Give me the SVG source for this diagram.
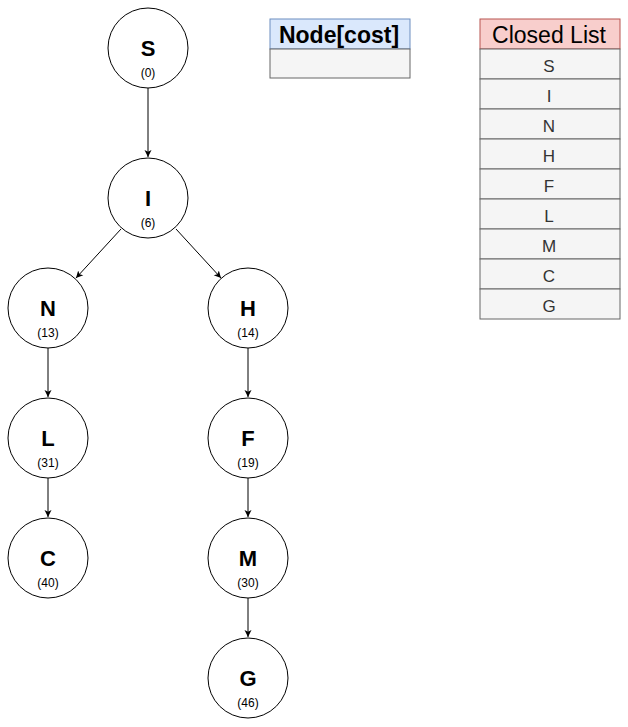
<svg xmlns="http://www.w3.org/2000/svg" width="628" height="727" viewBox="0 0 628 727">
<style>
.c{fill:#fff;stroke:#000;stroke-width:1}
.l{font-family:"Liberation Sans",Arial,sans-serif;font-size:22px;font-weight:bold;text-anchor:middle;fill:#000}
.k{font-family:"Liberation Sans",Arial,sans-serif;font-size:12px;text-anchor:middle;fill:#000}
.e{stroke:#000;stroke-width:1;fill:none;marker-end:url(#a)}
.r{fill:#f5f5f5;stroke:#666;stroke-width:1}
.rt{font-family:"Liberation Sans",Arial,sans-serif;font-size:17px;text-anchor:middle;fill:#333}
.h{font-family:"Liberation Sans",Arial,sans-serif;font-size:23px;text-anchor:middle;fill:#000}
</style>
<defs>
<marker id="a" markerWidth="10" markerHeight="10" refX="7" refY="3.5" orient="auto" markerUnits="userSpaceOnUse" viewBox="0 0 10 7">
<path d="M0,0 L7,3.5 L0,7 L1.8,3.5 Z" fill="#000"/>
</marker>
</defs>
<rect width="628" height="727" fill="#fff"/>
<g id="edges">
<line class="e" x1="148" y1="88" x2="148" y2="157"/>
<line class="e" x1="121" y1="229" x2="76" y2="278"/>
<line class="e" x1="176" y1="229" x2="221" y2="278"/>
<line class="e" x1="48" y1="348" x2="48" y2="397"/>
<line class="e" x1="248" y1="348" x2="248" y2="397"/>
<line class="e" x1="48" y1="478" x2="48" y2="517"/>
<line class="e" x1="248" y1="478" x2="248" y2="517"/>
<line class="e" x1="248" y1="598" x2="248" y2="637"/>
</g>
<g id="S"><circle class="c" cx="148" cy="48" r="40"/><text class="l" x="148" y="56">S</text><text class="k" x="148" y="77">(0)</text></g>
<g id="I"><circle class="c" cx="148" cy="198" r="40"/><text class="l" x="148" y="206">I</text><text class="k" x="148" y="227">(6)</text></g>
<g id="N"><circle class="c" cx="48" cy="308" r="40"/><text class="l" x="48" y="316">N</text><text class="k" x="48" y="337">(13)</text></g>
<g id="H"><circle class="c" cx="248" cy="308" r="40"/><text class="l" x="248" y="316">H</text><text class="k" x="248" y="337">(14)</text></g>
<g id="L"><circle class="c" cx="48" cy="438" r="40"/><text class="l" x="48" y="446">L</text><text class="k" x="48" y="467">(31)</text></g>
<g id="F"><circle class="c" cx="248" cy="438" r="40"/><text class="l" x="248" y="446">F</text><text class="k" x="248" y="467">(19)</text></g>
<g id="C"><circle class="c" cx="48" cy="558" r="40"/><text class="l" x="48" y="566">C</text><text class="k" x="48" y="587">(40)</text></g>
<g id="M"><circle class="c" cx="248" cy="558" r="40"/><text class="l" x="248" y="566">M</text><text class="k" x="248" y="587">(30)</text></g>
<g id="G"><circle class="c" cx="248" cy="678" r="40"/><text class="l" x="248" y="686">G</text><text class="k" x="248" y="707">(46)</text></g>
<g id="nodecost">
<rect x="270" y="19" width="140" height="30" fill="#dae8fc" stroke="#6c8ebf"/>
<text class="h" x="339" y="43" font-weight="bold">Node[cost]</text>
<rect class="r" x="270" y="49" width="140" height="29"/>
</g>
<g id="closed">
<rect x="480" y="19" width="140" height="30" fill="#f8cecc" stroke="#b85450"/>
<text class="h" x="549" y="43">Closed List</text>
<rect class="r" x="480" y="49" width="140" height="30"/><text class="rt" x="549" y="72">S</text>
<rect class="r" x="480" y="79" width="140" height="30"/><text class="rt" x="549" y="102">I</text>
<rect class="r" x="480" y="109" width="140" height="30"/><text class="rt" x="549" y="132">N</text>
<rect class="r" x="480" y="139" width="140" height="30"/><text class="rt" x="549" y="162">H</text>
<rect class="r" x="480" y="169" width="140" height="30"/><text class="rt" x="549" y="192">F</text>
<rect class="r" x="480" y="199" width="140" height="30"/><text class="rt" x="549" y="222">L</text>
<rect class="r" x="480" y="229" width="140" height="30"/><text class="rt" x="549" y="252">M</text>
<rect class="r" x="480" y="259" width="140" height="30"/><text class="rt" x="549" y="282">C</text>
<rect class="r" x="480" y="289" width="140" height="30"/><text class="rt" x="549" y="312">G</text>
</g>
</svg>
